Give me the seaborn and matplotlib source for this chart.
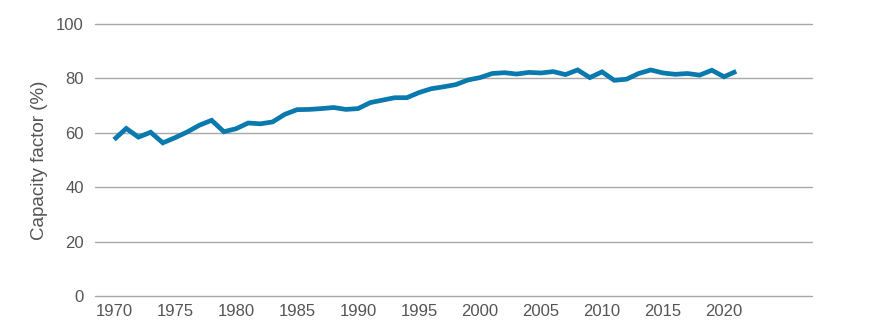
import matplotlib
matplotlib.use("Agg")
import matplotlib.pyplot as plt
import seaborn as sns
import pandas as pd

years = list(range(1970, 2022))
capacity_factor = [
    57.5, 61.6, 58.4, 60.2, 56.3, 58.2, 60.3, 62.8, 64.6, 60.4,
    61.5, 63.6, 63.3, 64.0, 66.8, 68.5, 68.6, 68.9, 69.3, 68.6,
    68.9, 71.1, 72.0, 72.9, 72.9, 74.8, 76.2, 76.9, 77.7, 79.4,
    80.3, 81.8, 82.1, 81.6, 82.2, 82.0, 82.5, 81.4, 83.1, 80.3,
    82.4, 79.3, 79.7, 81.8, 83.1, 82.0, 81.5, 81.8, 81.2, 83.0,
    80.6, 82.6,
]
y_ticks = [0, 20, 40, 60, 80, 100]
x_ticks = list(range(1970, 2021, 5))
y_label = "Capacity factor (%)"

df = pd.DataFrame({"year": years, "cf": capacity_factor})

sns.set_theme(style="white")
plt.rcParams["font.family"] = ["Liberation Sans", "DejaVu Sans"]

text_color = "#555555"
fig = plt.figure(figsize=(8.95, 3.34), dpi=100)
ax = fig.add_axes([95 / 895, 1 - 296 / 334, (812 - 95) / 895, (296 - 24) / 334])

sns.lineplot(data=df, x="year", y="cf", ax=ax, color="#0a79ad", linewidth=3.4,
             solid_joinstyle="miter", solid_capstyle="butt")

ax.set_ylim(0, 100)
ax.set_xlim(1968.44, 2027.21)
ax.set_yticks(y_ticks)
ax.set_xticks(x_ticks)
ax.yaxis.grid(True, color="#a8a8a8", linewidth=1.0)
for gl in ax.get_ygridlines():
    gl.set_clip_on(False)
ax.set_axisbelow(True)
for s in ax.spines.values():
    s.set_visible(False)
ax.tick_params(axis="both", length=0, labelsize=12, colors=text_color)
ax.tick_params(axis="y", pad=8)
ax.tick_params(axis="x", pad=6)
ax.set_xlabel("")
ax.set_ylabel(y_label, fontsize=13.5, color=text_color, labelpad=6)

fig.savefig("out.png", dpi=100)
